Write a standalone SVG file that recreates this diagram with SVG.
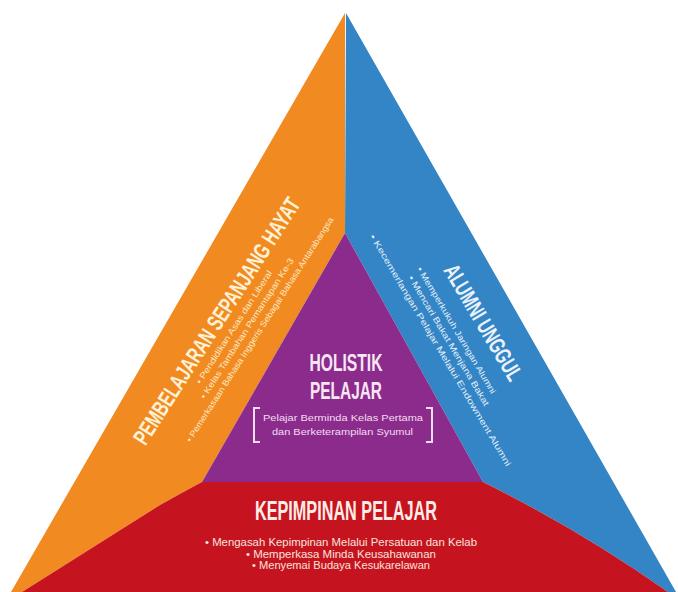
<svg xmlns="http://www.w3.org/2000/svg" width="678" height="592" viewBox="0 0 678 592">
<style>
.ttl{font-family:"Liberation Sans","DejaVu Sans",sans-serif;font-weight:bold;text-anchor:middle}
.sub{font-family:"Liberation Sans","DejaVu Sans",sans-serif;text-anchor:middle}
</style>
<rect width="678" height="592" fill="#ffffff"/>
<g id="orange">
<path d="M345,13 L345,233 L202,482 Q185,491 160,505 L22,592 L11,592 Z" fill="#F18B21"/>
<g transform="translate(223.4,325.2) rotate(-57.3)">
<text class="ttl" x="0" y="0" font-size="23" fill="#FFF1D6" textLength="288" lengthAdjust="spacingAndGlyphs">PEMBELAJARAN SEPANJANG HAYAT</text>
<text class="sub" x="4" y="13" font-size="8.5" fill="#FFE8C4" textLength="133" lengthAdjust="spacingAndGlyphs">• Pendidikan Asas dan Liberal</text>
<text class="sub" x="10" y="24.5" font-size="8.5" fill="#FFE8C4" textLength="165" lengthAdjust="spacingAndGlyphs">• Kelas Tambahan Pemantapan Ke-3</text>
<text class="sub" x="16" y="36" font-size="8.5" fill="#FFE8C4" textLength="265" lengthAdjust="spacingAndGlyphs">• Pemerkasaan Bahasa Inggeris Sebagai Bahasa Antarabangsa</text>
</g>
</g>
<g id="blue">
<path d="M346,13 L676,592 L668,592 Q580,530 483,482 L345,233 Z" fill="#3385C6"/>
<g transform="translate(476.5,326.5) rotate(59.3)">
<text class="ttl" x="0" y="0" font-size="23" fill="#EAF3FB" textLength="131" lengthAdjust="spacingAndGlyphs">ALUMNI UNGGUL</text>
<text class="sub" x="-7" y="22" font-size="8.5" fill="#E6F0FA" textLength="146" lengthAdjust="spacingAndGlyphs">• Memperkukuh Jaringan Alumni</text>
<text class="sub" x="-2" y="34" font-size="8.5" fill="#E6F0FA" textLength="150" lengthAdjust="spacingAndGlyphs">• Mencari Bakat Menjana Bakat</text>
<text class="sub" x="2" y="46" font-size="8.5" fill="#E6F0FA" textLength="268" lengthAdjust="spacingAndGlyphs">• Kecemerlangan Pelajar Melalui Endowment Alumni</text>
</g>
</g>
<g id="red">
<path d="M202,482 L483,482 Q580,530 668,592 L22,592 L160,505 Q185,491 202,482 Z" fill="#C5141F"/>
<text class="ttl" x="346" y="520" font-size="27" fill="#FDEDE6" textLength="182" lengthAdjust="spacingAndGlyphs">KEPIMPINAN PELAJAR</text>
<text class="sub" x="341" y="546" font-size="10" fill="#FBE3DC" textLength="272" lengthAdjust="spacingAndGlyphs">• Mengasah Kepimpinan Melalui Persatuan dan Kelab</text>
<text class="sub" x="341" y="557.5" font-size="10" fill="#FBE3DC" textLength="190" lengthAdjust="spacingAndGlyphs">• Memperkasa Minda Keusahawanan</text>
<text class="sub" x="341" y="569" font-size="10" fill="#FBE3DC" textLength="178" lengthAdjust="spacingAndGlyphs">• Menyemai Budaya Kesukarelawan</text>
</g>
<g id="purple">
<path d="M345,233 L483,482 L202,482 Z" fill="#8B2C8C"/>
<text class="ttl" x="346" y="371" font-size="24" fill="#F8E6F5" textLength="73" lengthAdjust="spacingAndGlyphs">HOLISTIK</text>
<text class="ttl" x="346" y="399" font-size="24" fill="#F8E6F5" textLength="72" lengthAdjust="spacingAndGlyphs">PELAJAR</text>
<path d="M260,408 L254,408 L254,442 L260,442 M426,408 L432,408 L432,442 L426,442" fill="none" stroke="#F3DDF0" stroke-width="2"/>
<text class="sub" x="343" y="421" font-size="9.5" fill="#F3DDF0" textLength="160" lengthAdjust="spacingAndGlyphs">Pelajar Berminda Kelas Pertama</text>
<text class="sub" x="342.5" y="435" font-size="9.5" fill="#F3DDF0" textLength="141" lengthAdjust="spacingAndGlyphs">dan Berketerampilan Syumul</text>
</g>
</svg>
